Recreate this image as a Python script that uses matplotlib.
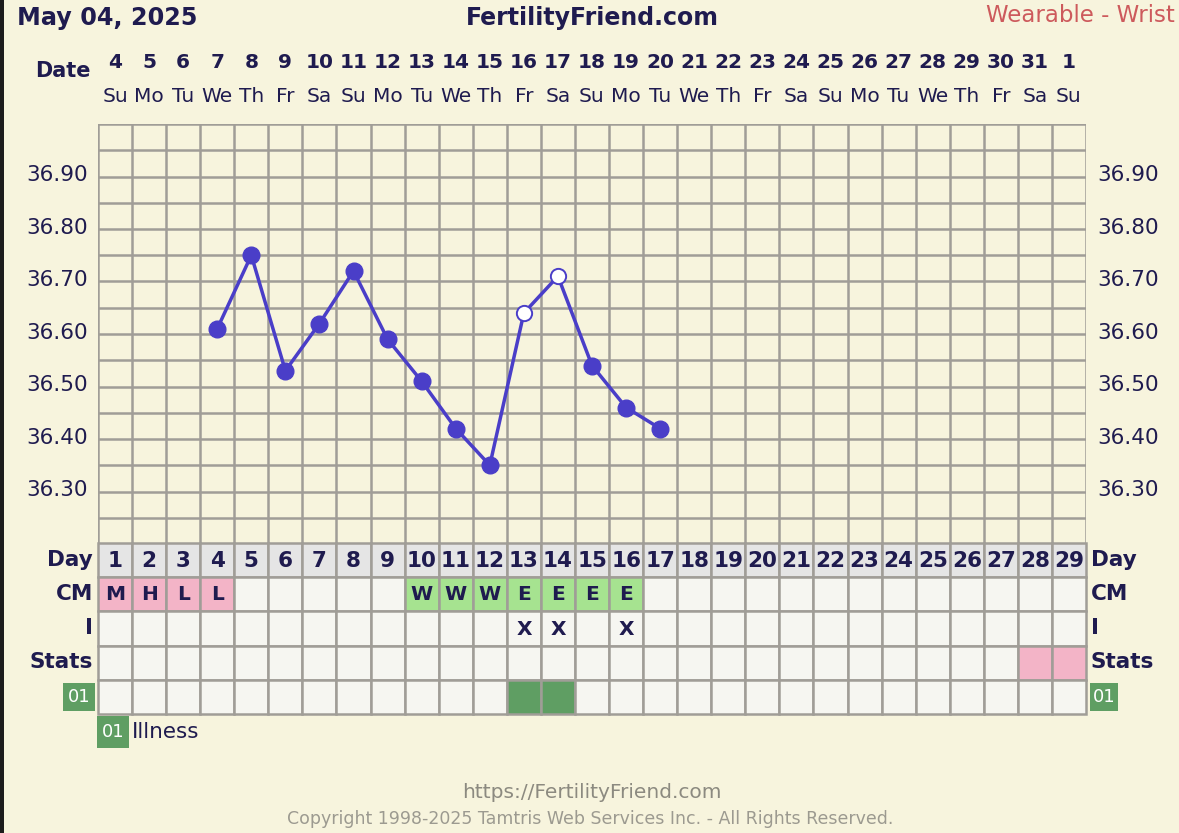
import numpy as np
import matplotlib.pyplot as plt
from matplotlib.patches import Rectangle
from matplotlib.transforms import blended_transform_factory, offset_copy

# chart data
cycle_days = list(range(1, 30))
dates = list(range(4, 32)) + [1]
weekdays = (["Su", "Mo", "Tu", "We", "Th", "Fr", "Sa"] * 5)[:29]
temp_days = [4, 5, 6, 7, 8, 9, 10, 11, 12, 13, 14, 15, 16, 17]
temps = [36.61, 36.75, 36.53, 36.62, 36.72, 36.59, 36.51, 36.42, 36.35,
         36.64, 36.71, 36.54, 36.46, 36.42]
open_days = [13, 14]
cm_days = [1, 2, 3, 4, 10, 11, 12, 13, 14, 15, 16]
cm_codes = ["M", "H", "L", "L", "W", "W", "W", "E", "E", "E", "E"]
intercourse_days = [13, 14, 16]
stats_days = [28, 29]
illness_days = [13, 14]
temp_ticks = [36.30, 36.40, 36.50, 36.60, 36.70, 36.80, 36.90]

W, H = 1179, 833
bg = "#f7f4dd"
navy = "#1f1b4f"
gridc = "#a09d97"
purple = "#4a3ec8"
pink = "#f3b4c7"
lgreen = "#a6e390"
dgreen = "#5f9e63"

fig = plt.figure(figsize=(W / 100, H / 100), dpi=100, facecolor=bg)


def px(x0, y0, x1, y1):
    # pixel box (top-left origin) -> figure fraction
    return [x0 / W, 1 - y1 / H, (x1 - x0) / W, (y1 - y0) / H]


# temperature chart
ax = fig.add_axes(px(98, 124, 1086, 544))
ax.set_facecolor(bg)
ax.set_xlim(0.5, 29.5)
ax.set_ylim(36.20, 37.00)
ax.set_xticks(np.arange(0.5, 29.6, 1), minor=True)
ax.set_xticks([])
ax.set_yticks(np.arange(36.20, 37.001, 0.05), minor=True)
ax.set_yticks(temp_ticks)
ax.set_yticklabels([])
ax.tick_params(which="both", length=0)
ax.grid(which="both", color=gridc, linewidth=1.8)
ax.set_axisbelow(True)
for s in ax.spines.values():
    s.set_visible(False)

# temperature labels on both sides
ylab_tr = offset_copy(blended_transform_factory(fig.transFigure, ax.transData),
                      fig=fig, x=0, y=2.2, units="points")
for t in temp_ticks:
    fig.text(88 / W, t, f"{t:.2f}", transform=ylab_tr, ha="right",
             va="center_baseline", fontsize=15.5, color=navy)
    fig.text(1097 / W, t, f"{t:.2f}", transform=ylab_tr, ha="left",
             va="center_baseline", fontsize=15.5, color=navy)

ax.plot(temp_days, temps, color=purple, linewidth=2.5, zorder=3)
closed = [(d, t) for d, t in zip(temp_days, temps) if d not in open_days]
opened = [(d, t) for d, t in zip(temp_days, temps) if d in open_days]
ax.plot([c[0] for c in closed], [c[1] for c in closed], "o", color=purple,
        markersize=12, zorder=4)
ax.plot([c[0] for c in opened], [c[1] for c in opened], "o", markerfacecolor="white",
        markeredgecolor=purple, markeredgewidth=1.4, markersize=11, zorder=4)

# header labels
tr = blended_transform_factory(ax.transData, fig.transFigure)
for d, dt, wd in zip(cycle_days, dates, weekdays):
    fig.text(d, 1 - 62 / H, str(dt), transform=tr, ha="center", va="center",
             fontsize=14.5, fontweight="bold", color=navy)
    fig.text(d, 1 - 96 / H, wd, transform=tr, ha="center", va="center",
             fontsize=14.5, color=navy)
fig.text(91 / W, 1 - 71 / H, "Date", ha="right", va="center", fontsize=15,
         fontweight="bold", color=navy)
fig.text(17 / W, 1 - 18 / H, "May 04, 2025", ha="left", va="center", fontsize=17.2,
         fontweight="bold", color=navy)
fig.text(592 / W, 1 - 18 / H, "FertilityFriend.com", ha="center", va="center",
         fontsize=17, fontweight="bold", color=navy)
fig.text(1175 / W, 1 - 16 / H, "Wearable - Wrist", ha="right", va="center",
         fontsize=16.5, color="#cd5a5c")

# table below chart
tb = fig.add_axes(px(98, 543, 1086, 714))
tb.set_xlim(0.5, 29.5)
tb.set_ylim(5, 0)
tb.axis("off")
for r in range(5):
    for d in cycle_days:
        fc = "#e5e5e5" if r == 0 else "#f6f6f1"
        if r == 1 and d in cm_days:
            fc = pink if cm_codes[cm_days.index(d)] in "MHL" else lgreen
        if r == 3 and d in stats_days:
            fc = pink
        if r == 4 and d in illness_days:
            fc = dgreen
        tb.add_patch(Rectangle((d - 0.5, r), 1, 1, facecolor=fc, edgecolor=gridc,
                               linewidth=1.8, clip_on=False))
for d in cycle_days:
    tb.text(d, 0.52, str(d), ha="center", va="center", fontsize=15.5,
            fontweight="bold", color=navy)
for d, c in zip(cm_days, cm_codes):
    tb.text(d, 1.52, c, ha="center", va="center", fontsize=14.5,
            fontweight="bold", color=navy)
for d in intercourse_days:
    tb.text(d, 2.52, "X", ha="center", va="center", fontsize=14.5,
            fontweight="bold", color=navy)

row_names = ["Day", "CM", "I", "Stats"]
for r, name in enumerate(row_names):
    y = 1 - (543 + 34 * r + 17) / H
    fig.text(93 / W, y, name, ha="right", va="center", fontsize=15.5,
             fontweight="bold", color=navy)
    fig.text(1091 / W, y, name, ha="left", va="center", fontsize=15.5,
             fontweight="bold", color=navy)


def green_box(x0, y0, x1, y1):
    fig.patches.append(Rectangle((x0 / W, 1 - y1 / H), (x1 - x0) / W, (y1 - y0) / H,
                                 transform=fig.transFigure, facecolor=dgreen,
                                 edgecolor="none"))
    fig.text((x0 + x1) / 2 / W, 1 - (y0 + y1) / 2 / H, "01", ha="center", va="center",
             fontsize=13, color="white")


green_box(63, 683, 95, 711)
green_box(1090, 683, 1118, 711)
green_box(97, 716, 129, 748)
fig.text(132 / W, 1 - 732 / H, "Illness", ha="left", va="center", fontsize=15.5,
         color=navy)

# footer
fig.text(592 / W, 1 - 793 / H, "https://FertilityFriend.com", ha="center",
         va="center", fontsize=14.5, color="#8c8a80")
fig.text(590 / W, 1 - 819 / H,
         "Copyright 1998-2025 Tamtris Web Services Inc. - All Rights Reserved.",
         ha="center", va="center", fontsize=12.5, color="#9c9a90")

# dark frame on left edge
fig.patches.append(Rectangle((0, 0), 4 / W, 1, transform=fig.transFigure,
                             facecolor="#1c1c1c", edgecolor="none"))

fig.savefig("out.png", dpi=100, facecolor=bg)
